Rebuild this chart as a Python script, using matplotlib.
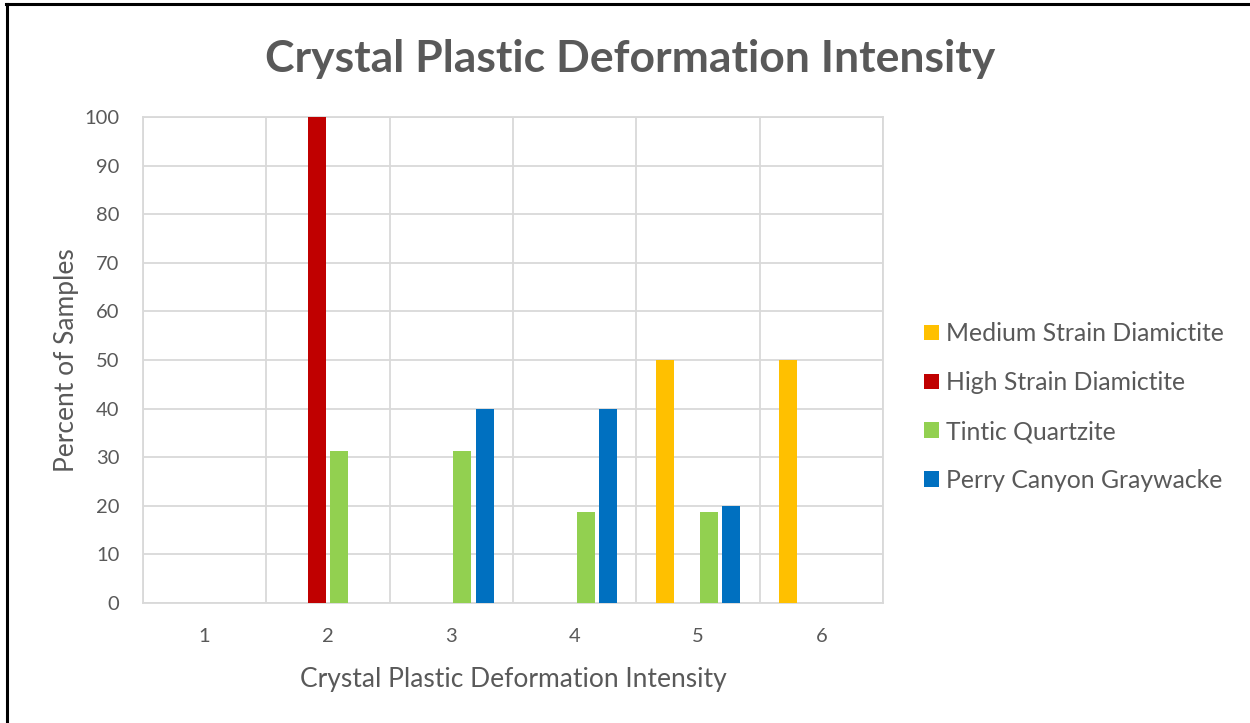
import matplotlib
matplotlib.use("Agg")
import matplotlib.pyplot as plt
from matplotlib.lines import Line2D
from matplotlib.patches import Patch
import numpy as np

plt.rcParams["font.family"] = ["Lato", "DejaVu Sans"]

categories = [1, 2, 3, 4, 5, 6]
series_names = [
    "Medium Strain Diamictite",
    "High Strain Diamictite",
    "Tintic Quartzite",
    "Perry Canyon Graywacke",
]
medium_strain = [0, 0, 0, 0, 50, 50]
high_strain = [0, 100, 0, 0, 0, 0]
tintic = [0, 31.25, 31.25, 18.75, 18.75, 0]
perry_canyon = [0, 0, 40, 40, 20, 0]
colors = ["#FFC000", "#C00000", "#92D050", "#0070C0"]

TEXT = "#595959"
GRID = "#D9D9D9"

fig = plt.figure(figsize=(12.5, 7.23), dpi=100)
ax = fig.add_axes([0.1144, 0.166, 0.592, 0.672])

x = np.array(categories, dtype=float)
pitch = 0.181
width = 0.146
for i, (vals, col) in enumerate(zip([medium_strain, high_strain, tintic, perry_canyon], colors)):
    ax.bar(x + (i - 1.5) * pitch, vals, width=width, color=col, zorder=3)

ax.set_xlim(0.5, 6.5)
ax.set_ylim(0, 100)
ax.set_yticks(range(0, 101, 10))
ax.set_xticks(categories)
ax.set_xticks(np.arange(0.5, 6.6, 1.0), minor=True)
ax.grid(True, which="minor", axis="x", color=GRID, lw=1.3, zorder=0)
ax.grid(True, which="major", axis="y", color=GRID, lw=1.3, zorder=0)
ax.tick_params(which="both", length=0)
ax.tick_params(axis="y", labelsize=14.5, labelcolor=TEXT, pad=17)
ax.tick_params(axis="x", labelsize=14.5, labelcolor=TEXT, pad=18)
for s in ax.spines.values():
    s.set_color(GRID)
    s.set_linewidth(1.3)

ax.set_xlabel("Crystal Plastic Deformation Intensity", fontsize=19, color=TEXT, labelpad=16)
ax.set_ylabel("Percent of Samples", fontsize=19, color=TEXT, labelpad=4)

fig.text(0.504, 0.918, "Crystal Plastic Deformation Intensity", ha="center", va="center",
         fontsize=32, fontweight="bold", color=TEXT)

handles = [Patch(facecolor=c, edgecolor="none") for c in colors]
fig.legend(handles, series_names, loc="center left", bbox_to_anchor=(0.7215, 0.437),
           frameon=False, fontsize=17.8, labelcolor=TEXT, handlelength=0.6,
           handleheight=0.6, handletextpad=0.3, labelspacing=1.05)

# frame line along top and left edges
fig.add_artist(Line2D([0.005, 1.0], [0.994, 0.994], color="black", lw=2.2, transform=fig.transFigure))
fig.add_artist(Line2D([0.0052, 0.0052], [0.0, 0.994], color="black", lw=2.2, transform=fig.transFigure))

fig.savefig("out.png", dpi=100)
